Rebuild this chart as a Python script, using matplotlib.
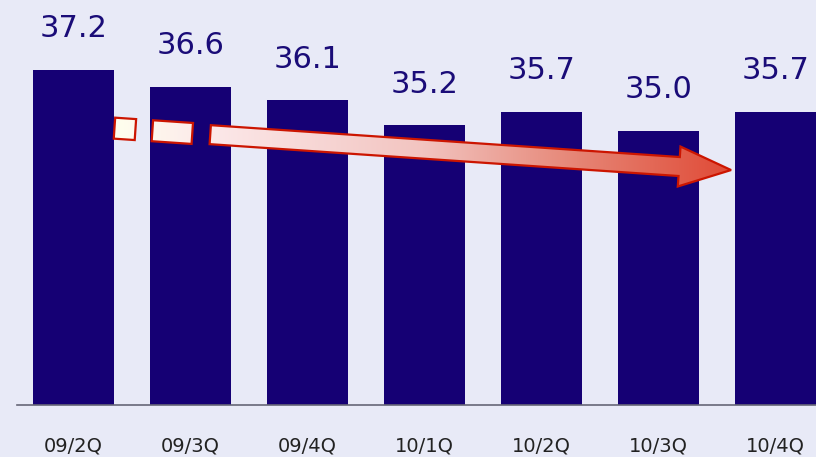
import numpy as np
import matplotlib
matplotlib.use("Agg")
from matplotlib import pyplot as plt
from matplotlib.patches import Polygon
from matplotlib.path import Path
from matplotlib.colors import LinearSegmentedColormap

quarters = ["09/2Q", "09/3Q", "09/4Q", "10/1Q", "10/2Q", "10/3Q", "10/4Q"]
values = [37.2, 36.6, 36.1, 35.2, 35.7, 35.0, 35.7]

BG = "#E8EAF7"
BAR = "#150074"
LABEL = "#1A0C78"

fig = plt.figure(figsize=(8.16, 4.57), dpi=100)
fig.patch.set_facecolor(BG)
ax = fig.add_axes([17 / 816, 52 / 457, 1 - 17 / 816, 1 - 52 / 457])
ax.set_facecolor(BG)

x = np.arange(len(quarters))
ax.bar(x, values, width=0.70, color=BAR, zorder=2)
ax.set_xlim(-0.483, 6.346)
ax.set_ylim(25.12, 39.72)

for xi, v in zip(x, values):
    ax.annotate(f"{v:.1f}", (xi, v), xytext=(0, 23.5), textcoords="offset points",
                ha="center", va="baseline", fontsize=22, color=LABEL, zorder=5)

ax.set_xticks(x)
ax.set_xticklabels(quarters, fontsize=14, color="#222222")
ax.tick_params(axis="x", length=0, pad=22.5)
ax.set_yticks([])
for s in ["top", "right", "left"]:
    ax.spines[s].set_visible(False)
ax.spines["bottom"].set_color("#666677")
ax.spines["bottom"].set_linewidth(1.2)

# trend arrow: tail just right of first bar, tip just left of last bar
tail = ax.transData.transform((0.35, 35.10))
tip = ax.transData.transform((5.62, 33.59))
d = tip - tail
length = np.hypot(*d)
u_hat = d / length
v_hat = np.array([-u_hat[1], u_hat[0]])

def to_data(pts):
    disp = np.array([tail + u * length * u_hat + w * v_hat for u, w in pts])
    return ax.transData.inverted().transform(disp)

pieces = [
    [(0.0, 10.5), (21 / length, 10.5), (21 / length, -10.5), (0.0, -10.5)],
    [(38 / length, 10.5), (78 / length, 10.5), (78 / length, -10.5), (38 / length, -10.5)],
    [(96 / length, 9.5), (566 / length, 9.5), (566 / length, 20), (1.0, 0),
     (566 / length, -20), (566 / length, -9.5), (96 / length, -9.5)],
]
polys = [to_data(p) for p in pieces]

cmap = LinearSegmentedColormap.from_list(
    "arrow", [(0.0, "#FFFFEE"), (0.15, "#FCE9EA"), (0.5, "#F2C4C0"),
              (0.75, "#E68575"), (1.0, "#E04A36")])

allpts = np.vstack(polys)
x0, x1 = allpts[:, 0].min(), allpts[:, 0].max()
y0, y1 = allpts[:, 1].min(), allpts[:, 1].max()
grad = np.linspace(0, 1, 256).reshape(1, -1)
im = ax.imshow(grad, cmap=cmap, extent=[x0, x1, y0, y1], aspect="auto",
               origin="lower", zorder=3, interpolation="bilinear")
verts, codes = [], []
for p in polys:
    verts.extend(list(p) + [p[0]])
    codes.extend([Path.MOVETO] + [Path.LINETO] * (len(p) - 1) + [Path.CLOSEPOLY])
clip = Path(np.array(verts), codes)
im.set_clip_path(clip, ax.transData)

for p in polys:
    ax.add_patch(Polygon(p, closed=True, fill=False, edgecolor="#CC1500",
                         linewidth=1.6, joinstyle="miter", zorder=4))

ax.set_xlim(-0.483, 6.346)
ax.set_ylim(25.12, 39.72)

fig.savefig("out.png", dpi=100, facecolor=BG)
